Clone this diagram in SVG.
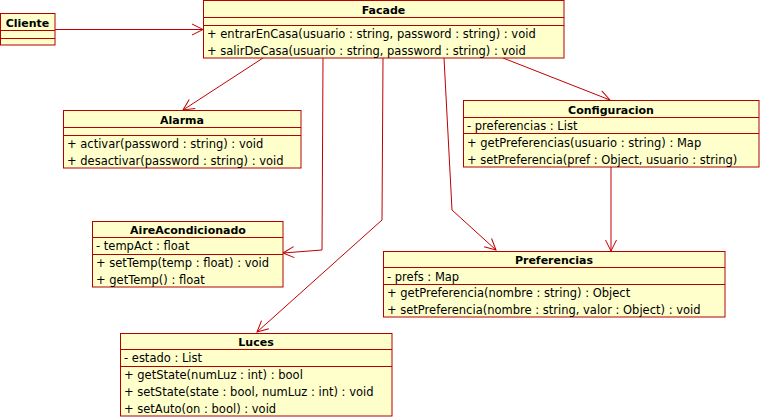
<svg xmlns="http://www.w3.org/2000/svg" width="760" height="417" viewBox="0 0 760 417">
<defs>
<style>
.box{fill:#ffffcc;stroke:#b40000;stroke-width:1}
.sep{stroke:#b40000;stroke-width:1}
.t{font-family:"DejaVu Sans",sans-serif;font-size:11.5px;fill:#000}
.b{font-family:"DejaVu Sans",sans-serif;font-size:11px;font-weight:bold;fill:#000;text-anchor:middle}
.c{fill:none;stroke:#c00000;stroke-width:1}
</style>
<marker id="arr" markerUnits="userSpaceOnUse" markerWidth="14" markerHeight="14" viewBox="0 0 14 14" refX="12" refY="7" orient="auto">
<path d="M1,1.5 L12,7 L1,12.5" fill="none" stroke="#c00000" stroke-width="1"/>
</marker>
</defs>
<rect x="0" y="0" width="760" height="417" fill="#fff"/>
<g id="connectors">
<line class="c" x1="55" y1="29.5" x2="203" y2="29.5" marker-end="url(#arr)"/>
<line class="c" x1="263" y1="58" x2="183" y2="110" marker-end="url(#arr)"/>
<polyline class="c" points="323,58 322,250 283,253" marker-end="url(#arr)"/>
<polyline class="c" points="383,58 382,220 257,332" marker-end="url(#arr)"/>
<polyline class="c" points="444,58 452,210 496,250" marker-end="url(#arr)"/>
<line class="c" x1="503" y1="58" x2="610" y2="100" marker-end="url(#arr)"/>
<line class="c" x1="611" y1="167" x2="611" y2="251" marker-end="url(#arr)"/>
</g>
<g id="Cliente">
<rect class="box" x="0.5" y="13.5" width="54.5" height="31.5"/>
<line class="sep" x1="0.5" y1="30.5" x2="55" y2="30.5"/>
<line class="sep" x1="0.5" y1="38.5" x2="55" y2="38.5"/>
<text class="b" x="27.5" y="26.5">Cliente</text>
</g>
<g id="Facade">
<rect class="box" x="203.5" y="0.5" width="360.5" height="57.5"/>
<line class="sep" x1="203.5" y1="17.5" x2="564" y2="17.5"/>
<line class="sep" x1="203.5" y1="25.5" x2="564" y2="25.5"/>
<text class="b" x="383.5" y="14">Facade</text>
<text class="t" x="207" y="37.5">+ entrarEnCasa(usuario : string, password : string) : void</text>
<text class="t" x="207" y="54.5">+ salirDeCasa(usuario : string, password : string) : void</text>
</g>
<g id="Alarma">
<rect class="box" x="63.5" y="110.5" width="237.5" height="57.5"/>
<line class="sep" x1="63.5" y1="127.5" x2="301" y2="127.5"/>
<line class="sep" x1="63.5" y1="135.5" x2="301" y2="135.5"/>
<text class="b" x="182" y="124">Alarma</text>
<text class="t" x="67" y="148">+ activar(password : string) : void</text>
<text class="t" x="67" y="165">+ desactivar(password : string) : void</text>
</g>
<g id="Configuracion">
<rect class="box" x="463.5" y="100.5" width="295.5" height="66.5"/>
<line class="sep" x1="463.5" y1="117.5" x2="759" y2="117.5"/>
<line class="sep" x1="463.5" y1="133.5" x2="759" y2="133.5"/>
<text class="b" x="611" y="114">Configuracion</text>
<text class="t" x="467" y="130">- preferencias : List</text>
<text class="t" x="467" y="147">+ getPreferencias(usuario : string) : Map</text>
<text class="t" x="467" y="164">+ setPreferencia(pref : Object, usuario : string)</text>
</g>
<g id="AireAcondicionado">
<rect class="box" x="92.5" y="221.5" width="190.5" height="65.5"/>
<line class="sep" x1="92.5" y1="237.5" x2="283" y2="237.5"/>
<line class="sep" x1="92.5" y1="254.5" x2="283" y2="254.5"/>
<text class="b" x="188" y="234">AireAcondicionado</text>
<text class="t" x="96" y="250">- tempAct : float</text>
<text class="t" x="96" y="266.5">+ setTemp(temp : float) : void</text>
<text class="t" x="96" y="283.5">+ getTemp() : float</text>
</g>
<g id="Luces">
<rect class="box" x="120.5" y="333.5" width="271.5" height="82.5"/>
<line class="sep" x1="120.5" y1="349.5" x2="392" y2="349.5"/>
<line class="sep" x1="120.5" y1="366.5" x2="392" y2="366.5"/>
<text class="b" x="256" y="346">Luces</text>
<text class="t" x="124" y="361.5">- estado : List</text>
<text class="t" x="124" y="378.5">+ getState(numLuz : int) : bool</text>
<text class="t" x="124" y="395.5">+ setState(state : bool, numLuz : int) : void</text>
<text class="t" x="124" y="412.5">+ setAuto(on : bool) : void</text>
</g>
<g id="Preferencias">
<rect class="box" x="383.5" y="251.5" width="341.5" height="65.5"/>
<line class="sep" x1="383.5" y1="267.5" x2="725" y2="267.5"/>
<line class="sep" x1="383.5" y1="284.5" x2="725" y2="284.5"/>
<text class="b" x="554" y="263.5">Preferencias</text>
<text class="t" x="387" y="280.5">- prefs : Map</text>
<text class="t" x="387" y="297">+ getPreferencia(nombre : string) : Object</text>
<text class="t" x="387" y="313.5">+ setPreferencia(nombre : string, valor : Object) : void</text>
</g>
</svg>
